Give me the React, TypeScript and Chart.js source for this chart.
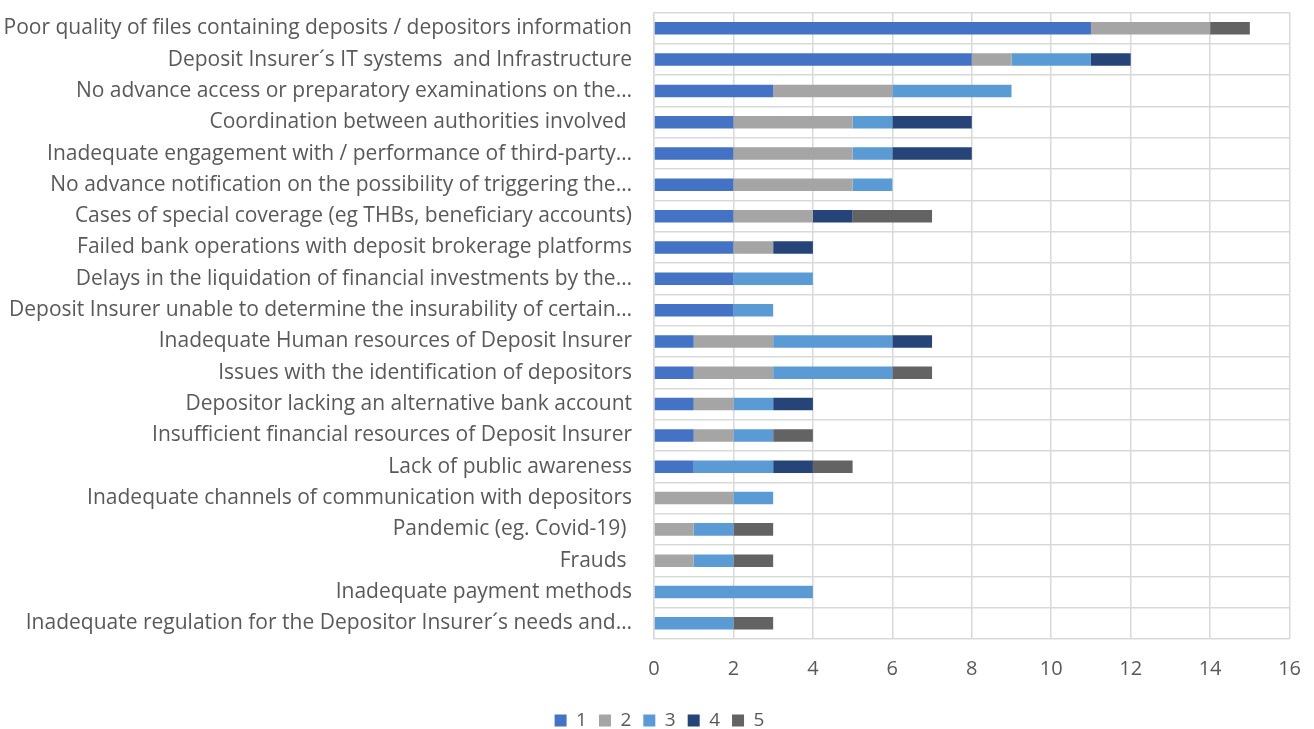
import React, { useEffect, useRef } from "react";
import { Chart, registerables } from "chart.js";

Chart.register(...registerables);

const categories: string[] = [
  "Poor quality of files containing deposits / depositors information",
  "Deposit Insurer´s IT systems  and Infrastructure",
  "No advance access or preparatory examinations on the…",
  "Coordination between authorities involved ",
  "Inadequate engagement with / performance of third-party…",
  "No advance notification on the possibility of triggering the…",
  "Cases of special coverage (eg THBs, beneficiary accounts)",
  "Failed bank operations with deposit brokerage platforms",
  "Delays in the liquidation of financial investments by the…",
  "Deposit Insurer unable to determine the insurability of certain…",
  "Inadequate Human resources of Deposit Insurer",
  "Issues with the identification of depositors",
  "Depositor lacking an alternative bank account",
  "Insufficient financial resources of Deposit Insurer",
  "Lack of public awareness",
  "Inadequate channels of communication with depositors",
  "Pandemic (eg. Covid-19) ",
  "Frauds ",
  "Inadequate payment methods",
  "Inadequate regulation for the Depositor Insurer´s needs and…",
];

const seriesNames: string[] = ["1", "2", "3", "4", "5"];
const series1: number[] = [11, 8, 3, 2, 2, 2, 2, 2, 2, 2, 1, 1, 1, 1, 1, 0, 0, 0, 0, 0];
const series2: number[] = [3, 1, 3, 3, 3, 3, 2, 1, 0, 0, 2, 2, 1, 1, 0, 2, 1, 1, 0, 0];
const series3: number[] = [0, 2, 3, 1, 1, 1, 0, 0, 2, 1, 3, 3, 1, 1, 2, 1, 1, 1, 4, 2];
const series4: number[] = [0, 1, 0, 2, 2, 0, 1, 1, 0, 0, 1, 0, 1, 0, 1, 0, 0, 0, 0, 0];
const series5: number[] = [1, 0, 0, 0, 0, 0, 2, 0, 0, 0, 0, 1, 0, 1, 1, 0, 1, 1, 0, 1];
const colors: string[] = ["#4472C4", "#A5A5A5", "#5B9BD5", "#264478", "#636363"];

const FONT = "'Open Sans', 'Liberation Sans', sans-serif";

export default function App() {
  const ref = useRef<HTMLCanvasElement | null>(null);
  useEffect(() => {
    if (!ref.current) return;
    const all = [series1, series2, series3, series4, series5];
    const chart = new Chart(ref.current, {
      type: "bar",
      data: {
        labels: categories,
        datasets: all.map((d, i) => ({
          label: seriesNames[i],
          data: d,
          backgroundColor: colors[i],
          borderWidth: 0,
          barPercentage: 0.4,
          categoryPercentage: 1,
        })),
      },
      options: {
        indexAxis: "y",
        animation: false,
        responsive: true,
        maintainAspectRatio: false,
        layout: { padding: { top: 0, right: 0, left: 0, bottom: 0 } },
        plugins: {
          tooltip: { enabled: false },
          legend: {
            position: "bottom",
            labels: {
              boxWidth: 12,
              boxHeight: 12,
              padding: 12,
              color: "#595959",
              font: { family: FONT, size: 19 },
            },
          },
        },
        scales: {
          x: {
            stacked: true,
            min: 0,
            max: 16,
            ticks: {
              stepSize: 2,
              color: "#595959",
              padding: 18,
              font: { family: FONT, size: 20 },
            },
            grid: { color: "#d9d9d9", lineWidth: 1.5, drawTicks: false },
            border: { display: false },
          },
          y: {
            stacked: true,
            ticks: {
              color: "#595959",
              padding: 22,
              autoSkip: false,
              font: { family: FONT, size: 21 },
            },
            grid: { color: "#d9d9d9", lineWidth: 1.5, drawTicks: false, offset: true },
            border: { display: true, color: "#d9d9d9", width: 1.5 },
            afterFit: (scale: any) => {
              scale.width = 654;
            },
          },
        },
      },
    });
    return () => chart.destroy();
  }, []);
  return (
    <div style={{ position: "fixed", left: 0, top: -22, width: 1319, height: 762, background: "#fff" }}>
      <canvas ref={ref} />
    </div>
  );
}
